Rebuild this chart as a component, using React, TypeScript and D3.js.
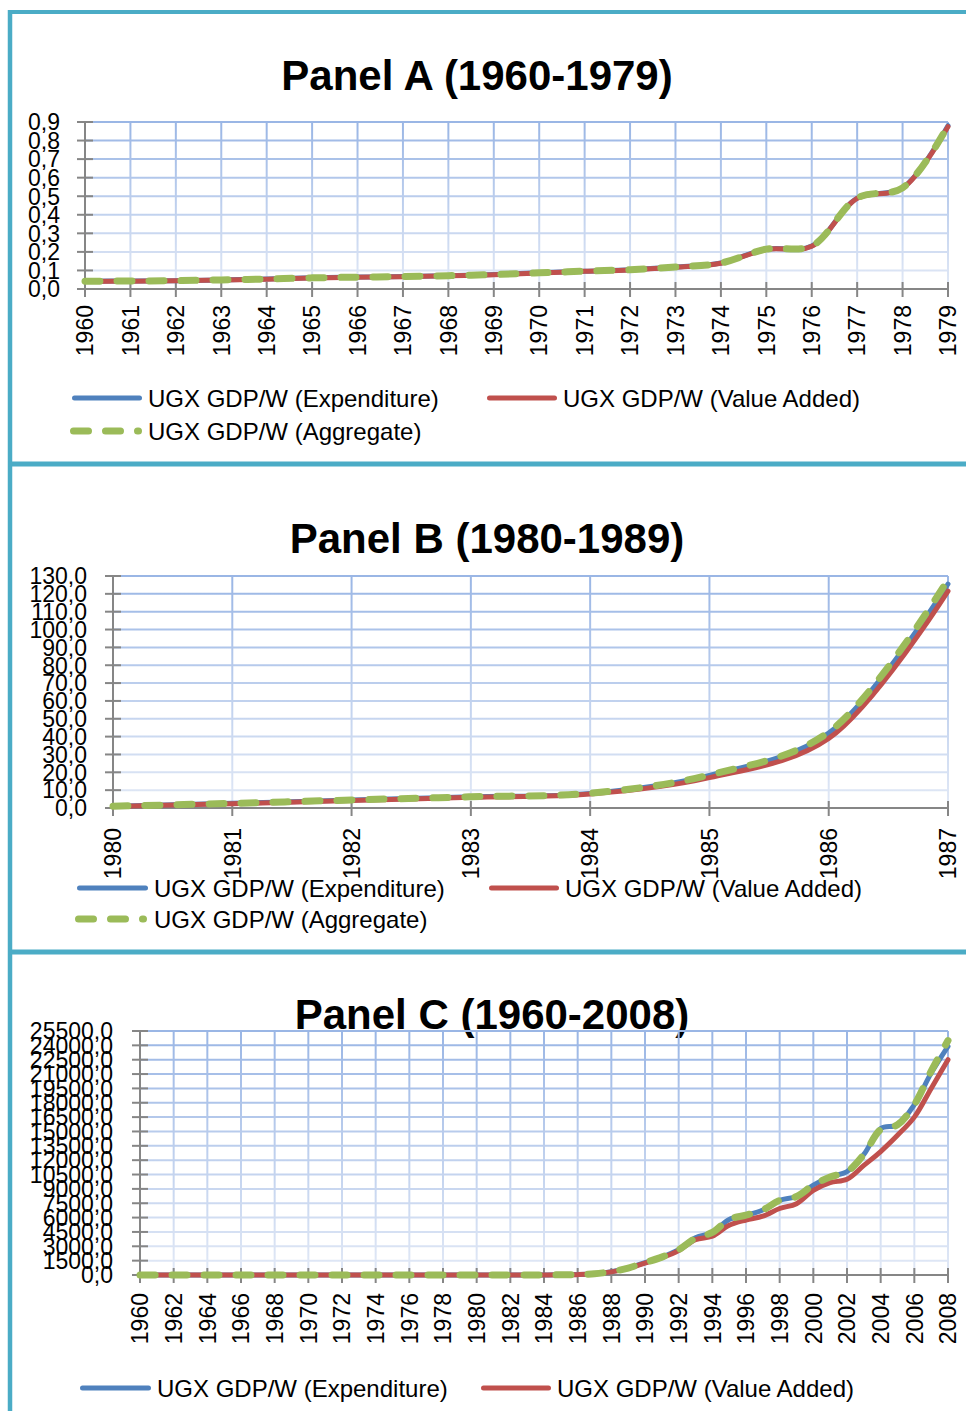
import React, { useEffect } from "react";
import * as d3 from "d3";

const W = 966;
const H = 1411;
const BORDER = "#4BACC6";
const BLUE = "#4F81BD";
const RED = "#C0504D";
const GREEN = "#9BBB59";
const AXIS = "#868686";
const FONT = "'Liberation Sans', Arial, sans-serif";

const LABEL_EXP = "UGX GDP/W (Expenditure)";
const LABEL_VA = "UGX GDP/W (Value Added)";
const LABEL_AGG = "UGX GDP/W (Aggregate)";

// Panel A (1960-1979)
const yearsA = [1960, 1961, 1962, 1963, 1964, 1965, 1966, 1967, 1968, 1969, 1970, 1971, 1972, 1973, 1974, 1975, 1976, 1977, 1978, 1979];
const expA = [0.042, 0.043, 0.045, 0.049, 0.054, 0.06, 0.064, 0.067, 0.072, 0.078, 0.087, 0.096, 0.104, 0.118, 0.14, 0.215, 0.232, 0.49, 0.545, 0.88];
const vaA = [0.041, 0.042, 0.044, 0.048, 0.053, 0.059, 0.063, 0.066, 0.071, 0.077, 0.086, 0.095, 0.103, 0.117, 0.139, 0.213, 0.23, 0.488, 0.543, 0.875];
const aggA = [0.042, 0.043, 0.045, 0.049, 0.054, 0.06, 0.064, 0.067, 0.072, 0.078, 0.087, 0.096, 0.104, 0.118, 0.14, 0.215, 0.232, 0.49, 0.545, 0.88];

// Panel B (1980-1987)
const yearsB = [1980, 1981, 1982, 1983, 1984, 1985, 1986, 1987];
const expB = [1.0, 2.6, 4.5, 6.3, 8.2, 18.3, 42.0, 125.5];
const vaB = [0.9, 2.4, 4.2, 6.0, 7.8, 17.0, 39.0, 121.5];
const aggB = [1.0, 2.6, 4.5, 6.3, 8.3, 18.5, 42.5, 128.0];

// Panel C (1960-2008)
const yearsC = [
  1960, 1961, 1962, 1963, 1964, 1965, 1966, 1967, 1968, 1969, 1970, 1971, 1972, 1973, 1974, 1975, 1976,
  1977, 1978, 1979, 1980, 1981, 1982, 1983, 1984, 1985, 1986, 1987, 1988, 1989, 1990, 1991, 1992, 1993,
  1994, 1995, 1996, 1997, 1998, 1999, 2000, 2001, 2002, 2003, 2004, 2005, 2006, 2007, 2008,
];
const expC = [
  0.04, 0.04, 0.05, 0.05, 0.05, 0.06, 0.06, 0.07, 0.07, 0.08, 0.09, 0.1, 0.1, 0.12, 0.14, 0.22, 0.23,
  0.49, 0.55, 0.88, 1.0, 2.6, 4.5, 6.3, 8.2, 18.3, 42, 126, 350, 730, 1300, 1870, 2650, 3900,
  4450, 5800, 6250, 6800, 7800, 8200, 9400, 10250, 10800, 12600, 15300, 15700, 17800, 21100, 23900,
];
const vaC = [
  0.04, 0.04, 0.04, 0.05, 0.05, 0.06, 0.06, 0.07, 0.07, 0.08, 0.09, 0.1, 0.1, 0.12, 0.14, 0.21, 0.23,
  0.49, 0.54, 0.88, 0.9, 2.4, 4.2, 6.0, 7.8, 17.0, 39, 122, 330, 700, 1250, 1800, 2550, 3700,
  4050, 5200, 5750, 6150, 6950, 7450, 8850, 9650, 10000, 11450, 12900, 14600, 16500, 19500, 22500,
];
const aggC = [
  0.04, 0.04, 0.05, 0.05, 0.05, 0.06, 0.06, 0.07, 0.07, 0.08, 0.09, 0.1, 0.1, 0.12, 0.14, 0.22, 0.23,
  0.49, 0.55, 0.88, 1.0, 2.6, 4.5, 6.3, 8.3, 18.5, 43, 128, 350, 730, 1300, 1870, 2650, 3850,
  4450, 5800, 6250, 6800, 7800, 8200, 9400, 10250, 10800, 12600, 15200, 15700, 17800, 21300, 24500,
];

type Series = { values: number[]; color: string; width: number; dash?: string };
type LegendItem = { label: string; color: string; dash?: string; width: number; lx1: number; lx2: number; tx: number; y: number };
type PanelCfg = {
  id: string;
  title: string;
  titleX: number;
  titleY: number;
  years: number[];
  series: Series[];
  xDomain: [number, number];
  xStep: number;
  yMax: number;
  yStep: number;
  x0: number;
  x1: number;
  yTop: number;
  yBot: number;
  labelRight: number;
  xLabelY: number;
  legend: LegendItem[];
};

const DASH = "15 17";
const fmt = (v: number) => v.toFixed(1).replace(".", ",");

const panels: PanelCfg[] = [
  {
    id: "A",
    title: "Panel A (1960-1979)",
    titleX: 477,
    titleY: 90,
    years: yearsA,
    series: [
      { values: expA, color: BLUE, width: 5 },
      { values: vaA, color: RED, width: 5 },
      { values: aggA, color: GREEN, width: 7, dash: DASH },
    ],
    xDomain: [1960, 1979],
    xStep: 1,
    yMax: 0.9,
    yStep: 0.1,
    x0: 85,
    x1: 948,
    yTop: 122,
    yBot: 289,
    labelRight: 60,
    xLabelY: 305,
    legend: [
      { label: LABEL_EXP, color: BLUE, width: 5, lx1: 74.5, lx2: 139.5, tx: 148, y: 398 },
      { label: LABEL_VA, color: RED, width: 5, lx1: 489.5, lx2: 554.5, tx: 563, y: 398 },
      { label: LABEL_AGG, color: GREEN, width: 7, dash: DASH, lx1: 73.5, lx2: 138.5, tx: 148, y: 431 },
    ],
  },
  {
    id: "B",
    title: "Panel B (1980-1989)",
    titleX: 487,
    titleY: 553,
    years: yearsB,
    series: [
      { values: expB, color: BLUE, width: 5 },
      { values: vaB, color: RED, width: 5 },
      { values: aggB, color: GREEN, width: 7, dash: DASH },
    ],
    xDomain: [1980, 1987],
    xStep: 1,
    yMax: 130,
    yStep: 10,
    x0: 113,
    x1: 948,
    yTop: 576,
    yBot: 808,
    labelRight: 87,
    xLabelY: 828,
    legend: [
      { label: LABEL_EXP, color: BLUE, width: 5, lx1: 79.5, lx2: 145.5, tx: 154, y: 888 },
      { label: LABEL_VA, color: RED, width: 5, lx1: 491.5, lx2: 556.5, tx: 565, y: 888 },
      { label: LABEL_AGG, color: GREEN, width: 7, dash: DASH, lx1: 78.5, lx2: 143.5, tx: 154, y: 919 },
    ],
  },
  {
    id: "C",
    title: "Panel C (1960-2008)",
    titleX: 492,
    titleY: 1029,
    years: yearsC,
    series: [
      { values: expC, color: BLUE, width: 5 },
      { values: vaC, color: RED, width: 5 },
      { values: aggC, color: GREEN, width: 7, dash: DASH },
    ],
    xDomain: [1960, 2008],
    xStep: 2,
    yMax: 25500,
    yStep: 1500,
    x0: 140,
    x1: 948,
    yTop: 1031,
    yBot: 1275,
    labelRight: 113,
    xLabelY: 1293,
    legend: [
      { label: LABEL_EXP, color: BLUE, width: 5, lx1: 82.5, lx2: 148.5, tx: 157, y: 1388 },
      { label: LABEL_VA, color: RED, width: 5, lx1: 483.5, lx2: 548.5, tx: 557, y: 1388 },
    ],
  },
];

function Panel({ cfg }: { cfg: PanelCfg }) {
  const x = d3.scaleLinear().domain(cfg.xDomain).range([cfg.x0, cfg.x1]);
  const y = d3.scaleLinear().domain([0, cfg.yMax]).range([cfg.yBot, cfg.yTop]);
  const nY = Math.round(cfg.yMax / cfg.yStep);
  const yTicks = d3.range(0, nY + 1).map((i) => i * cfg.yStep);
  const nX = Math.round((cfg.xDomain[1] - cfg.xDomain[0]) / cfg.xStep);
  const xTicks = d3.range(0, nX + 1).map((i) => cfg.xDomain[0] + i * cfg.xStep);
  const gradId = `grid-${cfg.id}`;
  const mkLine = (vals: number[]) =>
    d3
      .line<number>()
      .x((_, i) => x(cfg.years[i]))
      .y((d) => y(d))
      .curve(d3.curveCatmullRom.alpha(0.5))(vals) || "";

  return (
    <g>
      <defs>
        <linearGradient id={gradId} gradientUnits="userSpaceOnUse" x1={0} y1={cfg.yTop} x2={0} y2={cfg.yBot}>
          <stop offset="0" stopColor="#9AB6E5" />
          <stop offset="1" stopColor="#E2E9F6" />
        </linearGradient>
      </defs>
      <text
        x={cfg.titleX}
        y={cfg.titleY}
        textAnchor="middle"
        fontFamily={FONT}
        fontWeight="bold"
        fontSize={42}
        fill="#000"
      >
        {cfg.title}
      </text>
      {/* gridlines */}
      {yTicks.slice(1).map((t) => (
        <line key={`h${t}`} x1={cfg.x0} x2={cfg.x1} y1={y(t)} y2={y(t)} stroke={`url(#${gradId})`} strokeWidth={2} />
      ))}
      {xTicks.slice(1).map((t) => (
        <line key={`v${t}`} x1={x(t)} x2={x(t)} y1={cfg.yTop} y2={cfg.yBot} stroke={`url(#${gradId})`} strokeWidth={2} />
      ))}
      {/* axes */}
      <line x1={cfg.x0} x2={cfg.x0} y1={cfg.yTop} y2={cfg.yBot} stroke={AXIS} strokeWidth={2} />
      <line x1={cfg.x0} x2={cfg.x1} y1={cfg.yBot} y2={cfg.yBot} stroke={AXIS} strokeWidth={2} />
      {yTicks.map((t) => (
        <line key={`yt${t}`} x1={cfg.x0 - 8} x2={cfg.x0 + 8} y1={y(t)} y2={y(t)} stroke={AXIS} strokeWidth={2} />
      ))}
      {xTicks.map((t) => (
        <line key={`xt${t}`} x1={x(t)} x2={x(t)} y1={cfg.yBot - 7} y2={cfg.yBot + 8} stroke={AXIS} strokeWidth={2} />
      ))}
      {yTicks.map((t) => (
        <text
          key={`yl${t}`}
          x={cfg.labelRight}
          y={y(t)}
          dy="0.36em"
          textAnchor="end"
          fontFamily={FONT}
          fontSize={23}
          fill="#000"
        >
          {fmt(t)}
        </text>
      ))}
      {xTicks.map((t) => (
        <text
          key={`xl${t}`}
          transform={`translate(${x(t)},${cfg.xLabelY}) rotate(-90)`}
          dy="0.36em"
          textAnchor="end"
          fontFamily={FONT}
          fontSize={23}
          fill="#000"
        >
          {String(t)}
        </text>
      ))}
      {/* series */}
      {cfg.series.map((s, i) => (
        <path
          key={`s${i}`}
          d={mkLine(s.values)}
          fill="none"
          stroke={s.color}
          strokeWidth={s.width}
          strokeDasharray={s.dash}
          strokeLinecap="round"
          strokeLinejoin="round"
        />
      ))}
      {/* legend */}
      {cfg.legend.map((l, i) => (
        <g key={`lg${i}`}>
          <line
            x1={l.lx1}
            x2={l.lx2}
            y1={l.y}
            y2={l.y}
            stroke={l.color}
            strokeWidth={l.width}
            strokeDasharray={l.dash}
            strokeLinecap="round"
          />
          <text x={l.tx} y={l.y} dy="0.36em" fontFamily={FONT} fontSize={24} fill="#000">
            {l.label}
          </text>
        </g>
      ))}
    </g>
  );
}

export default function App() {
  useEffect(() => {
    document.body.style.margin = "0";
    document.body.style.overflow = "hidden";
  }, []);
  return (
    <svg width={W} height={H} viewBox={`0 0 ${W} ${H}`} style={{ display: "block", position: "absolute", left: 0, top: 0, background: "#fff" }}>
      <rect x={0} y={0} width={W} height={H} fill="#fff" />
      {/* frame */}
      <line x1={10} x2={10} y1={10} y2={H} stroke={BORDER} strokeWidth={4.5} />
      <line x1={8} x2={W} y1={12} y2={12} stroke={BORDER} strokeWidth={4} />
      <line x1={8} x2={W} y1={464} y2={464} stroke={BORDER} strokeWidth={5} />
      <line x1={8} x2={W} y1={952} y2={952} stroke={BORDER} strokeWidth={5} />
      {panels.map((p) => (
        <Panel key={p.id} cfg={p} />
      ))}
    </svg>
  );
}
